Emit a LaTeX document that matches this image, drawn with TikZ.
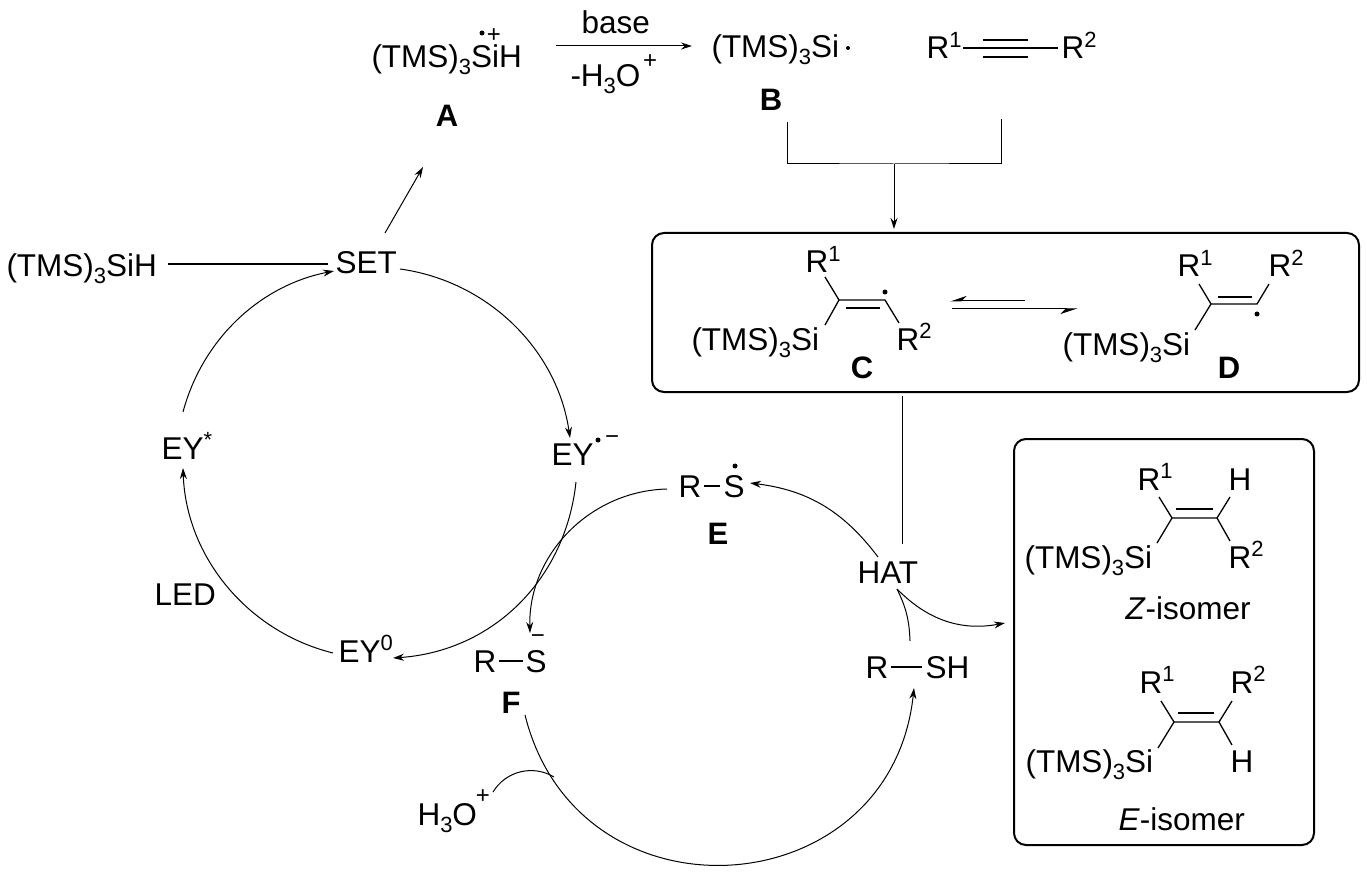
\documentclass[tikz,border=0pt]{standalone}
\usepackage{fontspec}
\setmainfont{Liberation Sans}
\usetikzlibrary{arrows.meta}
\newcommand{\subn}[1]{\raisebox{-7pt}{\fontsize{22}{22}\selectfont #1}}
\newcommand{\supn}[1]{\raisebox{11.5pt}{\fontsize{22}{22}\selectfont #1}}
\newcommand{\tms}{(TMS)\subn{3}Si}
\begin{document}
\begin{tikzpicture}[x=1pt,y=-1pt,>={Stealth[length=11pt,width=7pt]},line width=1pt]
  \tikzstyle{lbl}=[anchor=base west,inner sep=0pt,xshift=-2pt,font=\fontsize{31.5}{36}\selectfont]
  \tikzstyle{cmpd}=[anchor=base,inner sep=0pt,font=\fontsize{31}{36}\selectfont\bfseries]
  \tikzstyle{chg}=[inner sep=0pt,font=\fontsize{24}{24}\selectfont]
  \tikzstyle{radical}=[circle,fill=black,inner sep=0pt,minimum size=5pt]
  \tikzstyle{bond}=[line width=1.3pt]
  \tikzstyle{panel}=[draw,line width=2pt,rounded corners=12pt,inner sep=0pt]
\useasboundingbox (0,0) rectangle (1367,874);
% top row
\node[lbl] (A) at (373,68) {\tms H};
\node[radical] (Adot) at (482,33) {};
\node[chg] (Aplus) at (494,36) {+};
\node[cmpd] (Alabel) at (447,127) {A};
\node[lbl] (base) at (583,34) {base};
\node[lbl] (water) at (572,87) {-H\subn{3}O};
\node[chg] (waterplus) at (650,62) {+};
\node[lbl] (B) at (713,58) {\tms};
\node[radical,minimum size=4pt] (Bdot) at (848,48) {};
\node[cmpd] (Blabel) at (771,111) {B};
\node[lbl] (Ra) at (928,59) {R\supn{1}};
\node[lbl] (Rb) at (1063,59) {R\supn{2}};
\coordinate (baseL) at (556,46);
\coordinate (baseR) at (692,46);
\coordinate (tripL) at (963,48);
\coordinate (tripR) at (1058,48);
\draw[->] (baseL) -- (baseR);
\draw[bond] (tripL) -- (tripR);
\draw[bond] (983,40) -- (1028,40);
\draw[bond] (983,57) -- (1028,57);
% bracket
\coordinate (brL) at (787,122);
\coordinate (brR) at (1001,119);
\coordinate (brM) at (894,164);
\coordinate (brTip) at (894,229);
\draw (brL) |- (brM) -| (brR);
\draw[->] (brM) -- (brTip);
% box with C and D
\node[panel,minimum width=707pt,minimum height=159pt] (boxCD) at (1005.5,312.5) {};
\node[lbl] (CRa) at (807,273) {R\supn{1}};
\node[lbl] (CSi) at (693,350) {\tms};
\node[lbl] (CRb) at (898,350) {R\supn{2}};
\node[cmpd] (Clabel) at (862,378) {C};
\node[radical] (Cdot) at (885,292) {};
\coordinate (Ca) at (839,300);
\coordinate (Cb) at (885,300);
\draw[bond] (825,277) -- (Ca) -- (Cb) -- (899,323);
\draw[bond] (Ca) -- (825,325);
\draw[bond] (846,308) -- (880,308);
\draw[-{Stealth[length=15pt,width=10pt,harpoon,swap]}] (1025,301) -- (950,301);
\draw[-{Stealth[length=15pt,width=10pt,harpoon,swap]}] (952,309) -- (1077,309);
\node[lbl] (DRa) at (1179,277) {R\supn{1}};
\node[lbl] (DRb) at (1270,277) {R\supn{2}};
\node[lbl] (DSi) at (1064,355) {\tms};
\node[cmpd] (Dlabel) at (1229,378) {D};
\node[radical] (Ddot) at (1257,314) {};
\coordinate (Da) at (1211,304);
\coordinate (Db) at (1257,304);
\draw[bond] (1199,284) -- (Da) -- (Db) -- (1269,284);
\draw[bond] (Da) -- (1195,330);
\draw[bond] (1218,297) -- (1252,297);
% box with the isomers
\node[panel,minimum width=300pt,minimum height=406pt] (boxZE) at (1164,642) {};
\node[lbl] (ZRa) at (1139,490) {R\supn{1}};
\node[lbl] (ZH) at (1230,490) {H};
\node[lbl] (ZSi) at (1026,568) {\tms};
\node[lbl] (ZRb) at (1230,568) {R\supn{2}};
\node[lbl] (Zname) at (1127,619) {\textit{Z}-isomer};
\coordinate (Za) at (1172,518);
\coordinate (Zb) at (1217,518);
\draw[bond] (1159,497) -- (Za) -- (Zb) -- (1230,497);
\draw[bond] (Za) -- (1157,543);
\draw[bond] (Zb) -- (1230,541);
\draw[bond] (1176,509) -- (1213,509);
\node[lbl] (ERa) at (1141,693) {R\supn{1}};
\node[lbl] (ERb) at (1232,693) {R\supn{2}};
\node[lbl] (ESi) at (1027,772) {\tms};
\node[lbl] (EH) at (1232,772) {H};
\node[lbl] (Ename) at (1120,830) {\textit{E}-isomer};
\coordinate (Ea) at (1174,722);
\coordinate (Eb) at (1219,722);
\draw[bond] (1161,701) -- (Ea) -- (Eb) -- (1232,701);
\draw[bond] (Ea) -- (1158,748);
\draw[bond] (Eb) -- (1232,745);
\draw[bond] (1178,713) -- (1214,713);
% left cycle
\node[lbl] (silane) at (8,277) {\tms H};
\node[lbl] (SET) at (337,274) {SET};
\node[lbl] (EYrad) at (553,465) {EY};
\node[radical] (EYdot) at (598,440) {};
\node[chg] (EYminus) at (612,440) {\textminus};
\node[lbl] (EYzero) at (340,662) {EY\supn{0}};
\node[lbl] (EYstar) at (163,459) {EY\supn{*}};
\node[lbl] (LED) at (156,605) {LED};
\coordinate (silaneR) at (168,264);
\coordinate (SETl) at (328,264);
\coordinate (SETup) at (385,233);
\coordinate (Atip) at (423,167);
\coordinate (SETr) at (400,269);
\coordinate (SETin) at (334,271);
\coordinate (EYradin) at (570,438);
\coordinate (EYradout) at (576,482);
\coordinate (EYzeroin) at (393,658);
\coordinate (EYzeroout) at (333,653);
\coordinate (EYstarin) at (183,468);
\coordinate (EYstarout) at (183,412);
\draw[line width=1.3pt] (silaneR) -- (SETl);
\draw[->] (SETup) -- (Atip);
\draw[->] (SETr) to[bend left=37,looseness=.95] (EYradin);
\draw[->] (EYradout) to[bend left=40] (EYzeroin);
\draw[->] (EYzeroout) to[bend left=37,looseness=.95] (EYstarin);
\draw[->] (EYstarout) to[bend left=32,looseness=.93] (SETin);
% right cycle
\node[lbl] (Erad) at (680,497) {R};
\node[lbl] (ES) at (725,497) {S};
\node[radical] (ESdot) at (735,466) {};
\node[cmpd] (Elabel) at (718,544) {E};
\node[lbl] (Fan) at (475,672) {R};
\node[lbl] (FS) at (527,672) {S};
\node[chg] (FSminus) at (538,639) {\textminus};
\node[cmpd] (Flabel) at (511,713) {F};
\node[lbl] (RSH) at (867,678) {R};
\node[lbl] (SH) at (927,678) {SH};
\node[lbl] (HAT) at (859,583) {HAT};
\node[lbl] (hydronium) at (419,825) {H\subn{3}O};
\node[chg] (hydroplus) at (483,797) {+};
\coordinate (Eout) at (667,489);
\coordinate (Ein) at (750,483);
\coordinate (Fin) at (530,633);
\coordinate (Fout) at (525,715);
\coordinate (RSHin) at (914,688);
\coordinate (RSHout) at (910,641);
\coordinate (HATbot) at (897,589);
\coordinate (HATl) at (878,557);
\coordinate (HATtop) at (902,544);
\coordinate (boxCDout) at (902,396);
\coordinate (boxZEin) at (1005,623);
\coordinate (hydroOut) at (493,792);
\coordinate (hydroJoin) at (554,777);
\draw[bond] (704,486) -- (720,486);
\draw[bond] (499,661) -- (523,661);
\draw[bond] (891,667) -- (922,667);
\draw (boxCDout) -- (HATtop);
\draw[->] (Eout) to[bend right=45] (Fin);
\draw[->] (Fout) to[bend right=80,looseness=1.45] (RSHin);
\draw (RSHout) to[bend right=12] (HATbot);
\draw[->] (HATl) to[bend right=23] (Ein);
\draw[->] (HATbot) to[bend right=28] (boxZEin);
\draw (hydroOut) to[bend left=45] (hydroJoin);
\end{tikzpicture}
\end{document}
